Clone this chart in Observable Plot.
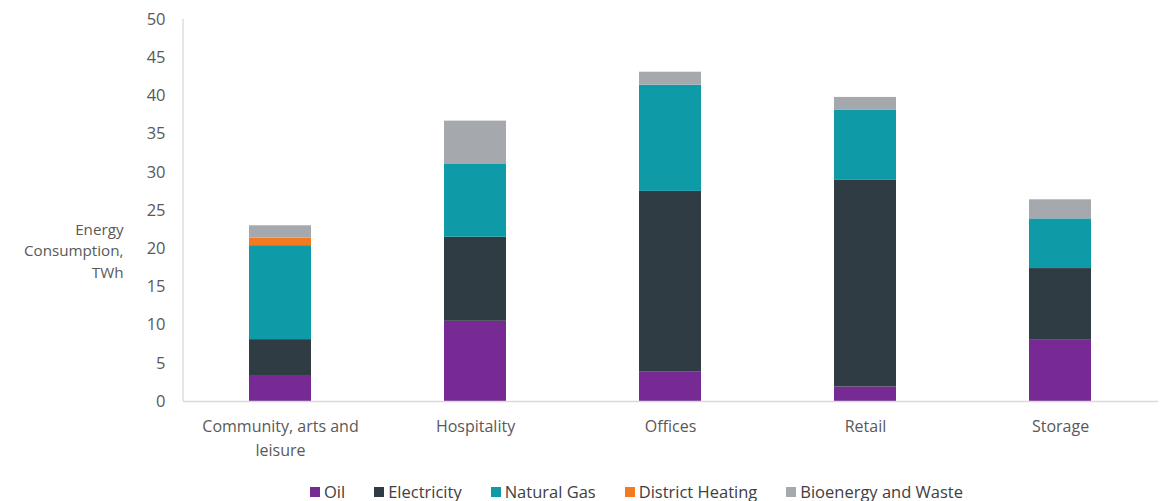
<!DOCTYPE html>
<html>
<head>
<meta charset="utf-8">
<script src="https://cdn.jsdelivr.net/npm/d3@7"></script>
<script src="https://cdn.jsdelivr.net/npm/@observablehq/plot@0.6"></script>
<style>
  body { margin: 0; background: #fff; }
  #chart { position: relative; width: 1160px; height: 501px; }
  #legend { position: absolute; left: 310px; top: 481px; display: flex; font-family: "Open Sans", "Liberation Sans", sans-serif; font-size: 16.5px; color: #404040; line-height: 22px; }
  #legend span.item { display: inline-flex; align-items: center; margin-right: 29px; }
  #legend span.sw { display: inline-block; width: 10px; height: 10px; margin-right: 4px; }
</style>
</head>
<body>
<div id="chart"></div>
<script>
const categories = ["Community, arts and leisure", "Hospitality", "Offices", "Retail", "Storage"];
const categoryLabels = ["Community, arts and\nleisure", "Hospitality", "Offices", "Retail", "Storage"];
const fuels = ["Oil", "Electricity", "Natural Gas", "District Heating", "Bioenergy and Waste"];
const colors = ["#772a94", "#2f3c44", "#0e9aa7", "#f47a20", "#a5a9ae"];
const oil = [3.4, 10.5, 3.9, 1.9, 8.1];
const electricity = [4.7, 11.0, 23.6, 27.1, 9.3];
const naturalGas = [12.3, 9.6, 13.9, 9.1, 6.5];
const districtHeating = [1.0, 0, 0, 0, 0];
const bioenergy = [1.6, 5.6, 1.7, 1.7, 2.5];
const yTicks = [0, 5, 10, 15, 20, 25, 30, 35, 40, 45, 50];
const yLabel = "Energy\nConsumption,\nTWh";

const series = [oil, electricity, naturalGas, districtHeating, bioenergy];
const rows = [];
categories.forEach((c, i) => {
  fuels.forEach((f, j) => rows.push({category: c, fuel: f, value: series[j][i]}));
});

const font = "'Open Sans', 'Liberation Sans', sans-serif";

const plot = Plot.plot({
  width: 1160,
  height: 481,
  marginLeft: 183,
  marginRight: 2,
  marginTop: 19,
  marginBottom: 80,
  style: {fontFamily: font, fontSize: "16px", color: "#595959"},
  x: {domain: categories, paddingInner: 0.68, paddingOuter: 0.34, label: null, axis: null},
  y: {domain: [0, 50], label: null, axis: null},
  color: {domain: fuels, range: colors},
  marks: [
    Plot.axisY({ticks: yTicks, tickSize: 0, tickPadding: 18, label: null, fontSize: 16.5, fill: "#595959"}),
    Plot.axisX({tickSize: 0, tickPadding: 13, label: null, fontSize: 16, fill: "#595959", lineHeight: 1.5,
      tickFormat: (d) => categoryLabels[categories.indexOf(d)]}),
    (index, scales, values, dimensions) => {
      const x0 = dimensions.marginLeft;
      return d3.create("svg:line")
        .attr("x1", x0).attr("x2", x0)
        .attr("y1", scales.y(50)).attr("y2", scales.y(0))
        .attr("stroke", "#d9d9d9").attr("stroke-width", 1.3)
        .node();
    },
    Plot.barY(rows, Plot.stackY({x: "category", y: "value", fill: "fuel", order: fuels})),
    Plot.ruleY([0], {stroke: "#d9d9d9", strokeWidth: 1.3}),
    Plot.text([yLabel], {text: d => d, frameAnchor: "left", dx: -60, dy: 39, textAnchor: "end", lineHeight: 1.4, fill: "#595959", fontSize: 15.2})
  ]
});
document.getElementById("chart").appendChild(plot);

const legend = document.createElement("div");
legend.id = "legend";
fuels.forEach((f, j) => {
  const item = document.createElement("span");
  item.className = "item";
  const sw = document.createElement("span");
  sw.className = "sw";
  sw.style.background = colors[j];
  item.appendChild(sw);
  item.appendChild(document.createTextNode(f));
  legend.appendChild(item);
});
document.getElementById("chart").appendChild(legend);
</script>
</body>
</html>
